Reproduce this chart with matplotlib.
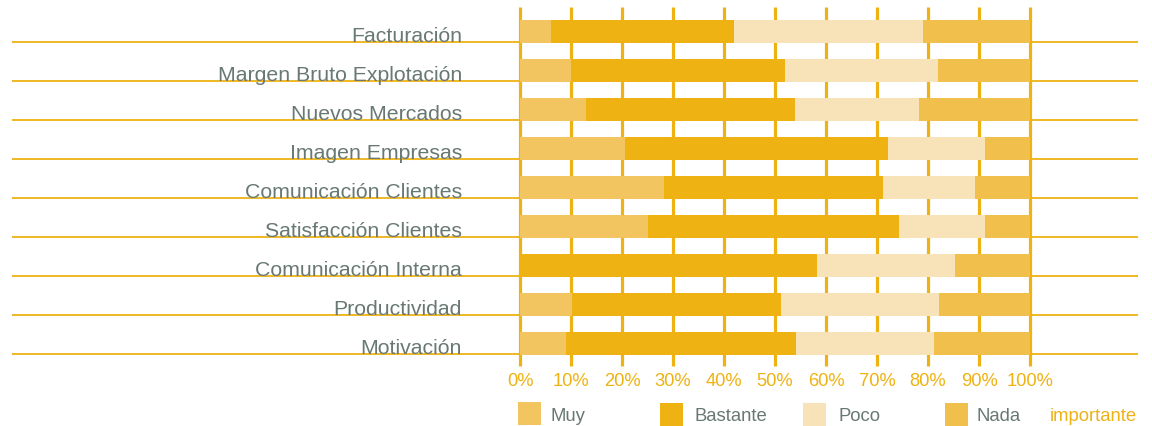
import matplotlib
matplotlib.use('Agg')
import matplotlib.pyplot as plt
from matplotlib.patches import Rectangle

plt.rcParams['font.family'] = ['Liberation Sans', 'DejaVu Sans']

# ---- data ----
categories = ["Facturación", "Margen Bruto Explotación", "Nuevos Mercados",
              "Imagen Empresas", "Comunicación Clientes", "Satisfacción Clientes",
              "Comunicación Interna", "Productividad", "Motivación"]
muy      = [6.0, 10.0, 13.0, 20.5, 28.2, 25.0, 0.0, 10.2, 9.0]
bastante = [36.0, 42.0, 41.0, 51.6, 43.0, 49.3, 58.3, 41.0, 45.1]
poco     = [37.0, 30.0, 24.3, 19.0, 18.1, 16.9, 27.0, 31.0, 27.1]
nada     = [21.0, 18.0, 21.7, 8.9, 10.7, 8.8, 14.7, 17.8, 18.8]
series_names = ["Muy", "Bastante", "Poco", "Nada"]
ticks = [0, 10, 20, 30, 40, 50, 60, 70, 80, 90, 100]
tick_labels = [f"{t}%" for t in ticks]
legend_suffix = "importante"

# ---- style ----
GOLD = '#EFB213'
GRAY = '#687872'
colors = ['#F3C561', '#EFB213', '#F8E2B7', '#F1BF4B']

W, H = 1152, 427
fig = plt.figure(figsize=(W / 100, H / 100), dpi=100)
ax = fig.add_axes([0, 0, 1, 1])
PX = 5.1      # pixels per percent
X0 = 520      # pixel of 0%
Y0, DY = 32.6, 39.0
ax.set_xlim(-X0 / PX, (W - X0) / PX)
ax.set_ylim((H - Y0) / DY, -Y0 / DY)
ax.axis('off')

n = len(categories)
ypos = list(range(n))

# vertical gridlines
ax.vlines(ticks, (8 - Y0) / DY, (367 - Y0) / DY, color=GOLD, lw=2.3, zorder=1)
# separator lines
sep_y = [i + 0.27 for i in ypos]
ax.hlines(sep_y, (12 - X0) / PX, (1138 - X0) / PX, color=GOLD, lw=1.3, zorder=2)

# stacked bars
lefts = [0.0] * n
for vals, col in zip([muy, bastante, poco, nada], colors):
    ax.barh(ypos, vals, left=lefts, height=0.585, color=col, linewidth=0, zorder=3)
    lefts = [l + v for l, v in zip(lefts, vals)]

# category labels
for i, cat in enumerate(categories):
    ax.text((462 - X0) / PX, i + 0.25, cat, ha='right', va='baseline',
            fontsize=15.3, color=GRAY, zorder=4)

# x tick labels
for t, lab in zip(ticks, tick_labels):
    ax.text(t, (381.5 - Y0) / DY, lab, ha='center', va='center',
            fontsize=13.2, color=GOLD)

# legend
sq = [(518, 403), (660, 404), (803, 404), (945, 404)]
tx = [551, 694, 838, 976]
for (sx, sy), x, name, col in zip(sq, tx, series_names, colors):
    fig.add_artist(Rectangle((sx / W, 1 - (sy + 23) / H), 23 / W, 23 / H,
                             transform=fig.transFigure, color=col, lw=0))
    fig.text(x / W, 1 - 421.5 / H, name, va='baseline', ha='left',
             fontsize=13.3, color=GRAY)
fig.text(1050 / W, 1 - 421.5 / H, legend_suffix, va='baseline', ha='left',
         fontsize=13.3, color=GOLD)

fig.savefig('out.png', dpi=100)
